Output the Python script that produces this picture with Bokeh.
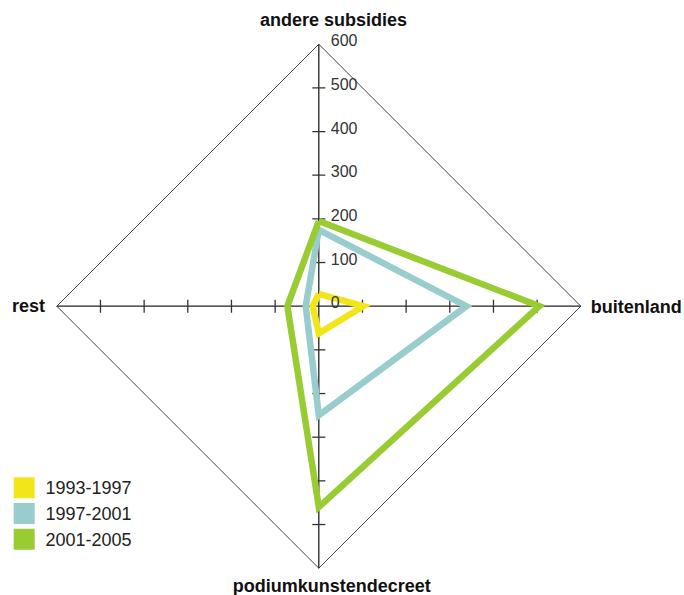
from bokeh.plotting import figure
from bokeh.models import Range1d
from bokeh.core.properties import value
from bokeh.embed import file_html
from bokeh.resources import INLINE

# ---- data ----
axes_labels = ["andere subsidies", "buitenland", "podiumkunstendecreet", "rest"]
axes_dirs = [(0, 1), (1, 0), (0, -1), (-1, 0)]
series_names = ["1993-1997", "1997-2001", "2001-2005"]
series_colors = ["#F2E61A", "#99CCCC", "#99CC33"]
vals_1993_1997 = [28, 102, 62, 14]
vals_1997_2001 = [175, 338, 250, 30]
vals_2001_2005 = [195, 505, 460, 72]
tick_values = [0, 100, 200, 300, 400, 500, 600]
max_value = 600

# ---- layout ----
W, H = 684, 595
k = 262.0 / max_value          # px per unit
cx, cy = 318.3, 305.7          # centre in canvas px (from top-left)

p = figure(width=W, height=H, output_backend="svg", toolbar_location=None,
           x_range=Range1d(-cx / k, (W - cx) / k),
           y_range=Range1d(-(H - cy) / k, cy / k),
           min_border=0)
p.axis.visible = False
p.grid.visible = False
p.outline_line_color = None
p.background_fill_color = "white"
p.border_fill_color = "white"

font = value("Liberation Sans")

# outer diamond
dx = [d[0] * max_value for d in axes_dirs] + [axes_dirs[0][0] * max_value]
dy = [d[1] * max_value for d in axes_dirs] + [axes_dirs[0][1] * max_value]
p.line(dx, dy, line_color="#444444", line_width=1)

# axis cross
p.segment(x0=[-max_value, 0], y0=[0, -max_value], x1=[max_value, 0], y1=[0, max_value],
          line_color="#222222", line_width=1.3)

# ticks
half = 6.5 / k
tx0, ty0, tx1, ty1 = [], [], [], []
for (ux, uy) in axes_dirs:
    for t in tick_values[1:-1]:
        x, y = ux * t, uy * t
        if ux == 0:
            tx0.append(x - half); tx1.append(x + half); ty0.append(y); ty1.append(y)
        else:
            tx0.append(x); tx1.append(x); ty0.append(y - half); ty1.append(y + half)
p.segment(x0=tx0, y0=ty0, x1=tx1, y1=ty1, line_color="#333333", line_width=1.3)

# series
for vals, col in zip([vals_1993_1997, vals_1997_2001, vals_2001_2005], series_colors):
    xs = [d[0] * v for d, v in zip(axes_dirs, vals)]
    ys = [d[1] * v for d, v in zip(axes_dirs, vals)]
    xs.append(xs[0]); ys.append(ys[0])
    p.line(xs, ys, line_color=col, line_width=6.5, line_join="miter")

# tick labels (upper vertical axis), drawn above the series
p.text(x=[0] * len(tick_values), y=tick_values, text=[str(t) for t in tick_values],
       x_offset=12, y_offset=-3.8, text_font=font, text_font_size="16px",
       text_color="#333333", text_align="left", text_baseline="alphabetic")

# axis titles
title_style = dict(text_font=font, text_font_size="18px", text_font_style="bold",
                   text_color="#111111", text_baseline="alphabetic")
p.text(x=[0], y=[max_value], text=[axes_labels[0]], x_offset=14.7, y_offset=-24.2,
       text_align="center", **title_style)
p.text(x=[max_value], y=[0], text=[axes_labels[1]], x_offset=10, y_offset=0.5,
       text_align="left", **title_style)
p.text(x=[0], y=[-max_value], text=[axes_labels[2]], x_offset=13, y_offset=17.9,
       text_align="center", **title_style)
p.text(x=[-max_value], y=[0], text=[axes_labels[3]], x_offset=-11.7, y_offset=-0.5,
       text_align="right", **title_style)

# legend (manual, positioned in screen px)
def sx(px):
    return (px - cx) / k

def sy(py):
    return (cy - py) / k

leg_y = [487.2, 513.0, 538.7]
p.rect(x=[sx(23.7)] * 3, y=[sy(v) for v in leg_y], width=21, height=21,
       width_units="screen", height_units="screen", fill_color=series_colors,
       line_color=None)
p.text(x=[sx(45)] * 3, y=[sy(v) for v in leg_y], text=series_names, y_offset=0.2,
       text_font=font, text_font_size="18px", text_color="#222222",
       text_align="left", text_baseline="alphabetic")

open("out.html", "w").write(file_html(p, INLINE))
